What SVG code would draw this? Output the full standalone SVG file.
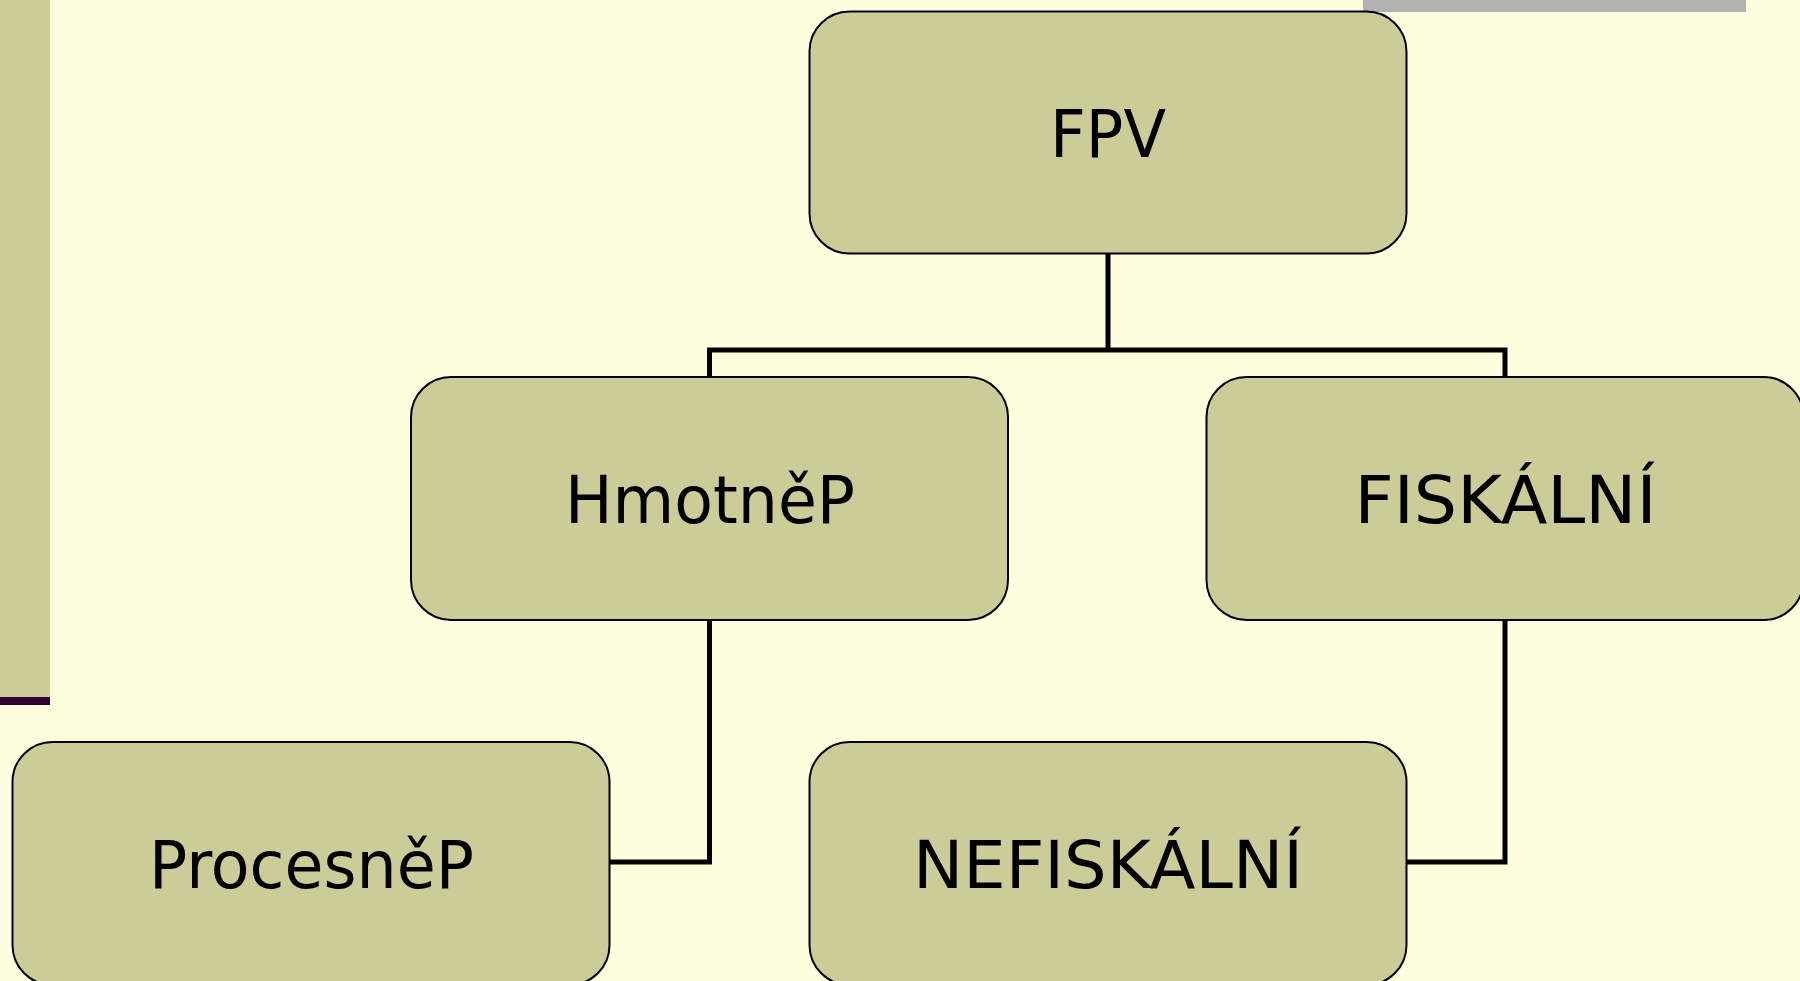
<svg xmlns="http://www.w3.org/2000/svg" width="1800" height="981" viewBox="0 0 1800 981">
<style>
.box{fill:#cccc99;stroke:#000;stroke-width:2}
.lbl{font-family:"DejaVu Sans","Noto Sans",sans-serif;font-size:66px;fill:#000;text-anchor:middle}
.con{fill:none;stroke:#000;stroke-width:5}
</style>
<rect x="0" y="0" width="1800" height="981" fill="#ffffe0"/>
<rect x="0" y="0" width="50" height="697" fill="#cccc99"/>
<rect x="0" y="697" width="50" height="8" fill="#330033"/>
<rect x="1363" y="0" width="383" height="12" fill="#b2b2b2"/>
<g id="connectors">
<path class="con" d="M1108 254 V350 M709.5 377 V350 H1505 V377"/>
<path class="con" d="M709.5 620 V862 H610"/>
<path class="con" d="M1505 620 V862 H1406"/>
</g>
<g id="fpv">
<rect class="box" x="809.5" y="11.5" width="597" height="242" rx="40"/>
<text class="lbl" x="1108" y="157" textLength="116" lengthAdjust="spacingAndGlyphs">FPV</text>
</g>
<g id="hmotnep">
<rect class="box" x="411" y="377" width="597" height="243" rx="40"/>
<text class="lbl" x="710" y="523" textLength="290" lengthAdjust="spacingAndGlyphs">HmotněP</text>
</g>
<g id="fiskalni">
<rect class="box" x="1206.5" y="377" width="597" height="243" rx="40"/>
<text class="lbl" x="1505.5" y="523" textLength="302" lengthAdjust="spacingAndGlyphs">FISKÁLNÍ</text>
</g>
<g id="procesnep">
<rect class="box" x="12.5" y="742" width="597" height="243" rx="40"/>
<text class="lbl" x="311.5" y="888" textLength="325" lengthAdjust="spacingAndGlyphs">ProcesněP</text>
</g>
<g id="nefiskalni">
<rect class="box" x="809.5" y="742" width="597" height="243" rx="40"/>
<text class="lbl" x="1108" y="888" textLength="390" lengthAdjust="spacingAndGlyphs">NEFISKÁLNÍ</text>
</g>
</svg>
